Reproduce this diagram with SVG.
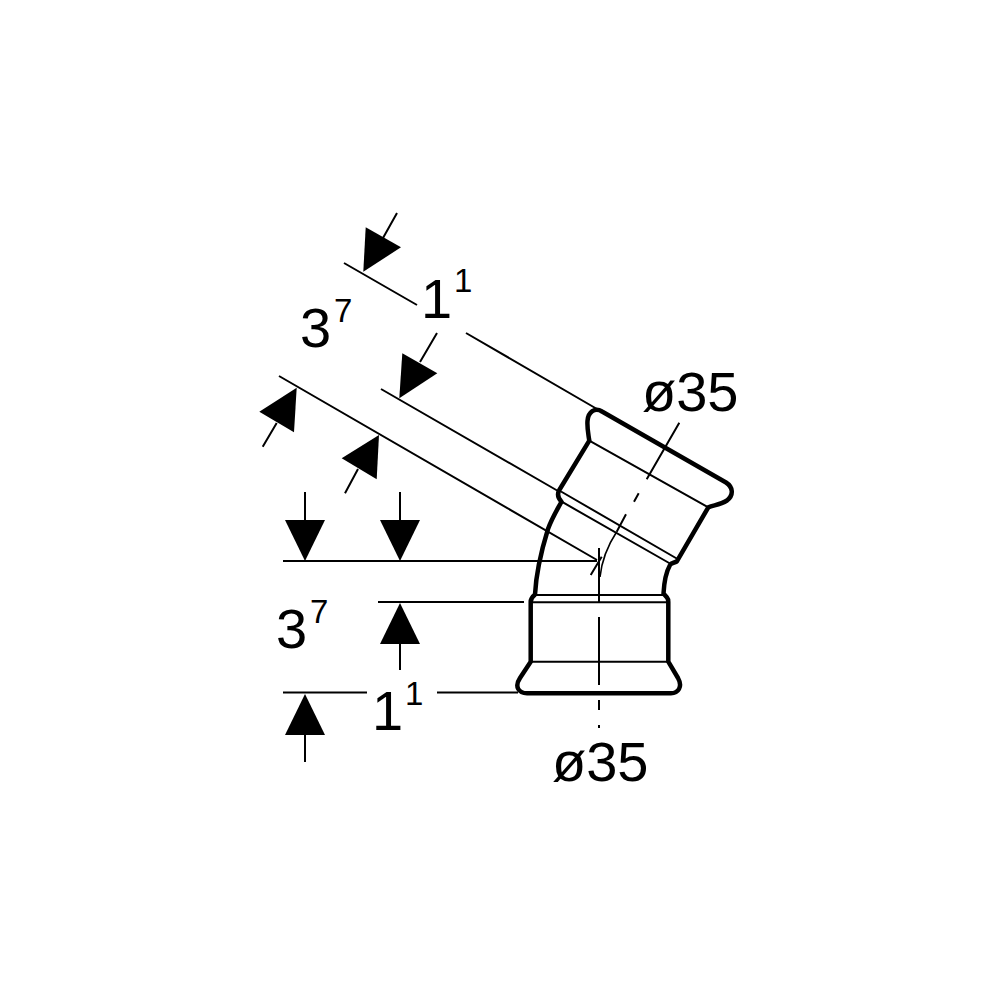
<svg xmlns="http://www.w3.org/2000/svg" width="1000" height="1000" viewBox="0 0 1000 1000">
<style>
.o{fill:none;stroke:#000;stroke-width:4.5;stroke-linejoin:round;stroke-linecap:round}
.t{fill:none;stroke:#000;stroke-width:2}
.c{fill:none;stroke:#000;stroke-width:1.6}
.a{fill:#000;stroke:none}
text{font-family:"Liberation Sans",Arial,sans-serif;fill:#000}
.b{font-size:56px}
.s{font-size:33px}
</style>
<rect width="1000" height="1000" fill="#fff"/>
<g id="fitting">
<path class="o" d="M589.3 440.7C588 432 587 428 587.5 421C588 412 595 407 602 411.5L726 482.5C733 487 734 495 727 500.5C720 505 714 505 708.3 507.3L676.7 561.7C673 563 671 563 670 565C665 574 664 584 663.5 593.5L667 597.5Q668.3 599 668.3 602L668.3 661.7L678 678C683 687 678 693.3 671 693.3L527 693.3C519 693.3 514 687 520 678L530.7 661.7L530.7 602Q530.7 598 535 594.5C536 575 540 555 548 529C552 518 557 510 561.5 501.7Q556 496 559.3 490L589.3 440.7Z"/>
<path class="t" d="M589.3 440.7L708.3 507.3M561 491.5L676.7 558.5M561.7 501.7L670 563.5M535 595H664M530.7 602.3H668.3M530.7 661.7H668.3"/>
</g>
<g id="connectors">
<path class="t" d="M466 333L597 409M344 263L417 305M381 389L558 491M279 376L597 560M283 561H597M378 602H524M283 692.5H367M437 692.5H518"/>
<path class="t" d="M397 213L383 238M437 333L420 362M262.7 446.7L276.7 423M345 493.3L358 469M305 492V520M400 492V520M400 644V670M305 735V762"/>
<path class="t" d="M599 548V602M599 617V685M599 700V710M599 725V728M679.3 422.7L646.7 479.3M638.7 493.3L634 501.7M626 514.3L616.7 531.7M590.7 575L601.7 556.7"/>
<path class="c" d="M616.7 531.7C608 545 602 558 600 577"/>
<polygon class="a" points="365.7,227.3 401,247.3 363.3,271.7"/>
<polygon class="a" points="402.3,353.3 437.3,373.3 399.3,398.3"/>
<polygon class="a" points="296.7,387.7 259.3,411.7 294,432.3"/>
<polygon class="a" points="379,435 341.7,458.3 376.7,479.3"/>
<polygon class="a" points="285,520 325,520 305,561"/>
<polygon class="a" points="380,520 420,520 400,561"/>
<polygon class="a" points="400,603 380,644 420,644"/>
<polygon class="a" points="305,694 285,735 325,735"/>
</g>
<g id="labels">
<text class="b" x="421" y="318">1</text><text class="s" x="454" y="292">1</text>
<text class="b" x="300" y="347">3</text><text class="s" x="334" y="322">7</text>
<text class="b" x="642" y="411">ø35</text>
<text class="b" x="276" y="648">3</text><text class="s" x="310" y="623">7</text>
<text class="b" x="372" y="730">1</text><text class="s" x="405" y="705">1</text>
<text class="b" x="552" y="781">ø35</text>
</g>
</svg>
